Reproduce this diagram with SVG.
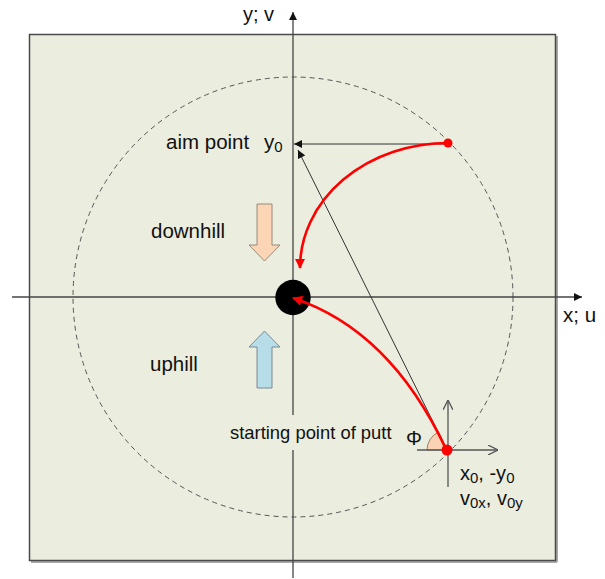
<svg xmlns="http://www.w3.org/2000/svg" width="605" height="579" viewBox="0 0 605 579">
<style>
text{font-family:"Liberation Sans",Arial,sans-serif;fill:#111;}
.axis{stroke:#444;stroke-width:1.3;fill:none;}
.thin{stroke:#333;stroke-width:1;fill:none;}
.red{stroke:#f00;stroke-width:2.6;fill:none;}
.small{stroke:#555;stroke-width:1.3;fill:none;}
</style>
<defs>
<marker id="ah" viewBox="0 0 10 10" refX="10" refY="5" markerWidth="9" markerHeight="8" markerUnits="userSpaceOnUse" orient="auto">
<path d="M0,0 L10,5 L0,10 Z" fill="#111"/>
</marker>
<marker id="ahr" viewBox="0 0 10 10" refX="9" refY="5" markerWidth="11" markerHeight="10" markerUnits="userSpaceOnUse" orient="auto">
<path d="M0,0 L10,5 L0,10 Z" fill="#f00"/>
</marker>
<marker id="open" viewBox="0 0 10 10" refX="10" refY="5" markerWidth="10" markerHeight="10" markerUnits="userSpaceOnUse" orient="auto">
<path d="M0,0 L10,5 L0,10" fill="none" stroke="#555" stroke-width="1.3"/>
</marker>
</defs>
<g id="field">
<line x1="557" y1="36" x2="557" y2="562" stroke="#aaa" stroke-width="2"/>
<line x1="31" y1="562" x2="557" y2="562" stroke="#aaa" stroke-width="2"/>
<rect x="29.5" y="34.5" width="526" height="526" fill="#EBEDDF" stroke="#4a4a4a" stroke-width="1.5"/>
<circle cx="293" cy="297" r="220" fill="none" stroke="#555" stroke-width="1" stroke-dasharray="5,4"/>
</g>
<g id="axes">
<line class="axis" x1="12" y1="297" x2="582" y2="297" marker-end="url(#ah)"/>
<line class="axis" x1="293" y1="578" x2="293" y2="12" marker-end="url(#ah)" stroke="#666"/>
</g>
<g id="start-label">
<rect x="228" y="415" width="166" height="35" fill="#EBEDDF"/>
<text x="230" y="439" font-size="18.4">starting point of putt</text>
</g>
<g id="ball">
<circle cx="293" cy="297.5" r="17.7" fill="#000"/>
</g>
<g id="angle">
<path d="M447,450 L427,450 A20,20 0 0 1 438.5,432 Z" fill="#FAD3B5" stroke="#a08060" stroke-width="1"/>
<text x="414" y="445" font-size="20" text-anchor="middle">Φ</text>
</g>
<g id="connectors">
<line class="thin" x1="448" y1="144" x2="294" y2="144" marker-end="url(#ah)"/>
<line class="thin" x1="447" y1="450" x2="298" y2="150" marker-end="url(#ah)"/>
<path class="red" d="M448,143 A148,125 0 0 0 300,268" marker-end="url(#ahr)"/>
<path class="red" d="M446,449 Q390,330 293,298" marker-end="url(#ahr)"/>
<line class="small" x1="448" y1="487" x2="448" y2="400" marker-end="url(#open)"/>
<line class="small" x1="417" y1="450" x2="498" y2="450" marker-end="url(#open)"/>
</g>
<g id="dots">
<circle cx="448" cy="143" r="4.5" fill="#f00"/>
<circle cx="447" cy="450" r="5.5" fill="#f00"/>
</g>
<g id="downhill">
<path d="M257,204 L272,204 L272,245 L280,245 L264.5,261 L249,245 L257,245 Z" fill="#FBD5B5" stroke="#9a8a7a" stroke-width="1"/>
<text x="151" y="238" font-size="20.5">downhill</text>
</g>
<g id="uphill">
<path d="M257,388 L272,388 L272,347 L280,347 L264.5,331 L249,347 L257,347 Z" fill="#B7DDE8" stroke="#7a8a94" stroke-width="1"/>
<text x="150" y="371" font-size="20.5">uphill</text>
</g>
<g id="labels">
<text x="166" y="149" font-size="20.5">aim point</text>
<text x="264" y="149" font-size="20.5">y<tspan font-size="15" dy="3">0</tspan></text>
<text x="243" y="21" font-size="20">y; v</text>
<text x="563" y="322" font-size="20.5">x; u</text>
<text x="460" y="480" font-size="20">x<tspan font-size="15" dy="3">0</tspan><tspan dy="-3">, -y</tspan><tspan font-size="15" dy="3">0</tspan></text>
<text x="460" y="505" font-size="20">v<tspan font-size="15" dy="3">0x</tspan><tspan dy="-3">, v</tspan><tspan font-size="15" dy="3">0y</tspan></text>
</g>
</svg>
